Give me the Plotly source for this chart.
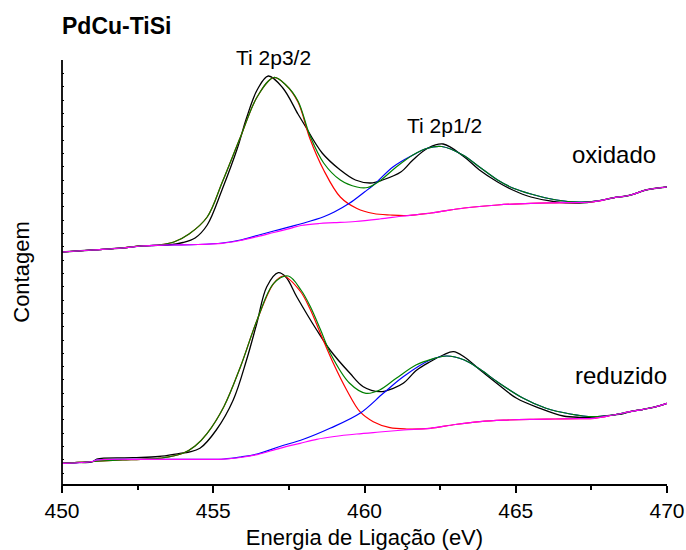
import plotly.graph_objects as go

# ---------------- data (binding energy in eV, counts in arbitrary units) ----------------
# oxidado (top spectrum)
ox_data_x = [450.0, 451.0, 452.0, 452.6, 453.0, 453.5, 454.0, 454.4, 454.8, 455.3, 455.8, 456.1,
             456.45, 456.82, 457.3, 457.8, 458.0, 458.6, 459.2, 459.7, 460.2, 460.6, 461.2, 461.6,
             462.1, 462.6, 463.3, 463.8, 464.4, 464.9, 465.5, 466.35, 467.1, 467.7, 468.2, 468.8,
             469.3, 470.0]
ox_data_y = [232, 234, 236, 238, 238.5, 239, 241.5, 246, 259, 295, 336, 366,
             394, 408, 396, 370, 360, 331, 314, 304, 301, 304, 312, 324,
             336, 340, 327, 314, 302, 294, 287, 282, 281, 283, 286, 289,
             294, 297]

ox_fit_x = [450, 451, 452, 452.6, 453.2, 453.7, 454.2, 454.8, 455.3, 455.9, 456.45, 457.0,
            457.4, 457.8, 458.2, 458.65, 459.2, 459.75, 460.1, 460.5, 461.05, 461.6, 462.05,
            462.55, 463.25, 463.8, 464.4, 464.9, 465.5, 466.35, 467.1, 467.7, 468.2, 468.8,
            469.3, 470]
ox_fit_y = [232, 234, 236, 238, 239, 242, 250, 267, 302, 347, 387, 406.5,
            399, 383, 348, 321, 304, 297, 296.5, 303, 317, 329, 335.5,
            337.5, 329, 317, 304, 296, 290, 284, 282, 283, 286, 289,
            294, 297]

ox_p32_x = [450, 451, 452, 452.6, 453.2, 453.7, 454.2, 454.8, 455.3, 455.9, 456.45, 457.0,
            457.4, 457.8, 458.2, 458.65, 459.2, 459.75, 460.3, 460.85, 461.4, 462.2, 463.3,
            464.4, 465.5, 466.6, 467.5, 468.2, 468.8, 469.3, 470]
ox_p32_y = [232, 234, 236, 238, 239, 242, 250, 267, 302, 347, 387, 406.5,
            399, 382, 345, 314, 287, 275.5, 270.5, 269, 268.5, 271, 276,
            279, 280.7, 281.3, 282, 286, 289, 294, 297]

ox_p12_x = [450, 451, 452, 452.6, 453.5, 454.5, 455.3, 455.9, 456.45, 457.0, 457.55, 458.0,
            458.65, 459.0, 459.5, 460.0, 460.3, 460.95, 461.6, 462.05, 462.55, 463.25, 463.8,
            464.4, 464.9, 465.5, 466.35, 467.1, 467.7, 468.2, 468.8, 469.3, 470]
ox_p12_y = [232, 234, 236, 238, 239, 239.5, 241, 244, 248.5, 253, 257.3, 261,
            267.3, 272, 280.7, 292, 299, 317.3, 329, 335.5, 337.5, 329, 317,
            304, 296, 290, 284, 282, 283, 286, 289, 294, 297]

ox_bg_x = [450, 451, 452, 452.6, 453.5, 454.5, 455.3, 455.9, 456.45, 457.0, 457.55, 457.9,
           458.5, 459.0, 459.7, 460.5, 461.3, 462.2, 463.3, 464.4, 465.5, 466.6, 467.5,
           468.2, 468.8, 469.3, 470]
ox_bg_y = [232, 234, 236, 238, 239, 239.5, 240.7, 243.5, 247.3, 251.5, 255.7, 258.5,
           260.5, 261.3, 262.5, 265, 268, 271, 276, 279, 280.7, 281.3, 282,
           286, 289, 294, 297]

# reduzido (bottom spectrum)
red_data_x = [450.0, 450.5, 451.0, 451.15, 452.35, 453.2, 453.9, 454.2, 454.56, 455.1, 455.66,
              456.1, 456.44, 456.77, 457.15, 457.4, 457.76, 458.42, 458.86, 459.52, 459.96,
              460.51, 460.95, 461.28, 461.73, 462.17, 462.6, 462.94, 463.3, 463.82, 464.37,
              465.03, 465.8, 466.57, 467.12, 467.6, 468.23, 468.5, 468.78, 469.22, 469.6, 470.0]
red_data_y = [20.7, 21.5, 22, 25, 26.3, 27.5, 30.7, 32, 35.7, 54, 84,
              124, 160.7, 197.3, 211.3, 207, 187.3, 154, 134, 110.7, 97.3,
              92.3, 95.7, 100.7, 114, 122.3, 129, 132.3, 127, 114, 100.7,
              85.7, 75.7, 68, 66.7, 67, 69, 70, 72.3, 74.7, 77, 80.7]

red_fit_x = [450, 451, 452, 452.6, 453.3, 454.0, 454.4, 454.8, 455.35, 455.9, 456.45, 457.0,
             457.48, 457.9, 458.2, 458.55, 458.9, 459.5, 460.05, 460.5, 461.05, 461.7, 462.2,
             462.72, 463.3, 463.82, 464.4, 465.25, 466.0, 466.8, 467.55, 468.23, 468.78,
             469.22, 469.6, 470]
red_fit_y = [20.7, 22.5, 24, 24.7, 26, 30.7, 38, 50.7, 77.3, 117.3, 164, 200.7,
             208, 194, 178, 154, 129, 101, 90.7, 94, 105.7, 119, 124.7,
             128, 124, 114.7, 102, 85.7, 75.7, 70, 67.3, 69, 72.3,
             74.7, 77, 80.7]

red_p32_x = [450, 451, 452, 452.6, 453.3, 454.0, 454.4, 454.8, 455.35, 455.9, 456.45, 457.0,
             457.32, 457.87, 458.2, 458.55, 458.97, 459.41, 459.85, 460.29, 460.84, 461.4,
             462.17, 463.0, 463.82, 464.6, 465.47, 466.3, 467.12, 467.6, 468.23, 468.78,
             469.22, 469.6, 470]
red_p32_y = [20.7, 22.5, 24, 24.7, 26, 30.7, 38, 50.7, 77.3, 117.3, 164, 200.7,
             208, 193, 175, 150, 120.7, 94, 72.3, 62.3, 56.3, 55,
             55.7, 59.5, 62.3, 63.8, 64.7, 65, 65.3, 65.7, 69, 72.3,
             74.7, 77, 80.7]

red_p12_x = [450, 451, 451.15, 452.6, 453.5, 454.5, 455.35, 455.9, 456.45, 457.2, 457.98,
             458.86, 459.85, 460.62, 461.28, 462.17, 462.72, 463.3, 463.82, 464.4, 465.25,
             466.0, 466.8, 467.55, 468.23, 468.78, 469.22, 469.6, 470]
red_p12_y = [20.7, 22.5, 24, 24.7, 24.7, 24.7, 25, 27, 30, 37.5, 44.7,
             55.7, 70.7, 90.7, 107.3, 124, 128, 124, 114.7, 102, 85.7,
             75.7, 70, 67.3, 69, 72.3, 74.7, 77, 80.7]

red_bg_x = [450, 451, 451.15, 452.6, 453.5, 454.5, 455.35, 455.9, 456.45, 457.2, 457.87,
            458.42, 459.0, 459.74, 460.5, 461.3, 462.17, 463.0, 463.82, 464.6, 465.47,
            466.3, 467.12, 467.6, 468.23, 468.78, 469.22, 469.6, 470]
red_bg_y = [20.7, 22.5, 24, 24.7, 24.7, 24.7, 24.9, 26.5, 29.3, 35.7, 40.7,
            44.7, 47.5, 50, 52, 54, 55.7, 59.5, 62.3, 63.8, 64.7,
            65, 65.3, 65.7, 69, 72.3, 74.7, 77, 80.7]

x_ticks = [450, 455, 460, 465, 470]

# ---------------- figure ----------------
FONT = "Arial, Liberation Sans, sans-serif"
fig = go.Figure()

def add(x, y, color, width=1.2, smooth=1.0):
    fig.add_trace(go.Scatter(x=x, y=y, mode="lines",
                             line=dict(color=color, width=width, shape="spline", smoothing=smooth),
                             showlegend=False, hoverinfo="skip"))

for data_x, data_y, p32x, p32y, p12x, p12y, fitx, fity, bgx, bgy in [
        (ox_data_x, ox_data_y, ox_p32_x, ox_p32_y, ox_p12_x, ox_p12_y, ox_fit_x, ox_fit_y, ox_bg_x, ox_bg_y),
        (red_data_x, red_data_y, red_p32_x, red_p32_y, red_p12_x, red_p12_y, red_fit_x, red_fit_y, red_bg_x, red_bg_y)]:
    add(data_x, data_y, "#000000", 1.3, 1.0)
    add(p32x, p32y, "#ff0000")
    add(p12x, p12y, "#0000ff")
    add(fitx, fity, "#008000")
    add(bgx, bgy, "#ff00ff")

# peak labels (2p3/2 sits just above the plot frame, so it uses paper coordinates)
fig.add_annotation(x=(456.98 - 450) / 20, y=1.005, xref="paper", yref="paper", text="Ti 2p3/2",
                   showarrow=False, xanchor="center", yanchor="middle",
                   font=dict(family=FONT, size=21, color="black"))
annos = [
    dict(text="Ti 2p1/2", x=462.66, y=359, size=21),
    dict(text="oxidado", x=468.25, y=330, size=24),
    dict(text="reduzido", x=468.48, y=109, size=24),
]
for a in annos:
    fig.add_annotation(x=a["x"], y=a["y"], text=a["text"], showarrow=False,
                       xref="x", yref="y", xanchor="center", yanchor="middle",
                       font=dict(family=FONT, size=a["size"], color="black"))

fig.add_annotation(x=-0.004, y=1.08, xref="paper", yref="paper", text="<b>PdCu-TiSi</b>",
                   showarrow=False, xanchor="left", yanchor="middle",
                   font=dict(family=FONT, size=23, color="black"))

# y axis line (extends slightly below the x axis, as in the original)
fig.add_shape(type="line", xref="paper", yref="paper", x0=0, x1=0, y0=-0.017, y1=1,
              line=dict(color="black", width=1.8))

fig.update_layout(
    width=686, height=550,
    margin=dict(l=62, r=19, t=60, b=66, autoexpand=False),
    paper_bgcolor="white", plot_bgcolor="white",
    font=dict(family=FONT, size=20, color="black"),
    xaxis=dict(range=[450, 470], tickmode="array", tickvals=x_ticks, automargin=False,
               ticks="outside", ticklen=7, tickwidth=1.5, tickcolor="black",
               showline=True, linecolor="black", linewidth=1.8, showgrid=False, zeroline=False,
               minor=dict(ticks="outside", ticklen=4, tickwidth=1.5, tickcolor="black", dtick=2.5),
               tickfont=dict(family=FONT, size=21),
               title=dict(text="Energia de Ligação (eV)", font=dict(family=FONT, size=22), standoff=16)),
    yaxis=dict(range=[0, 424], showline=False, showgrid=False, zeroline=False, automargin=False,
               showticklabels=False, ticks="inside", ticklen=2, tickwidth=1, tickcolor="black",
               tickmode="linear", tick0=10.7, dtick=13.33,
               title=dict(text="Contagem", font=dict(family=FONT, size=22), standoff=25)),
)

fig.write_html("out.html")
